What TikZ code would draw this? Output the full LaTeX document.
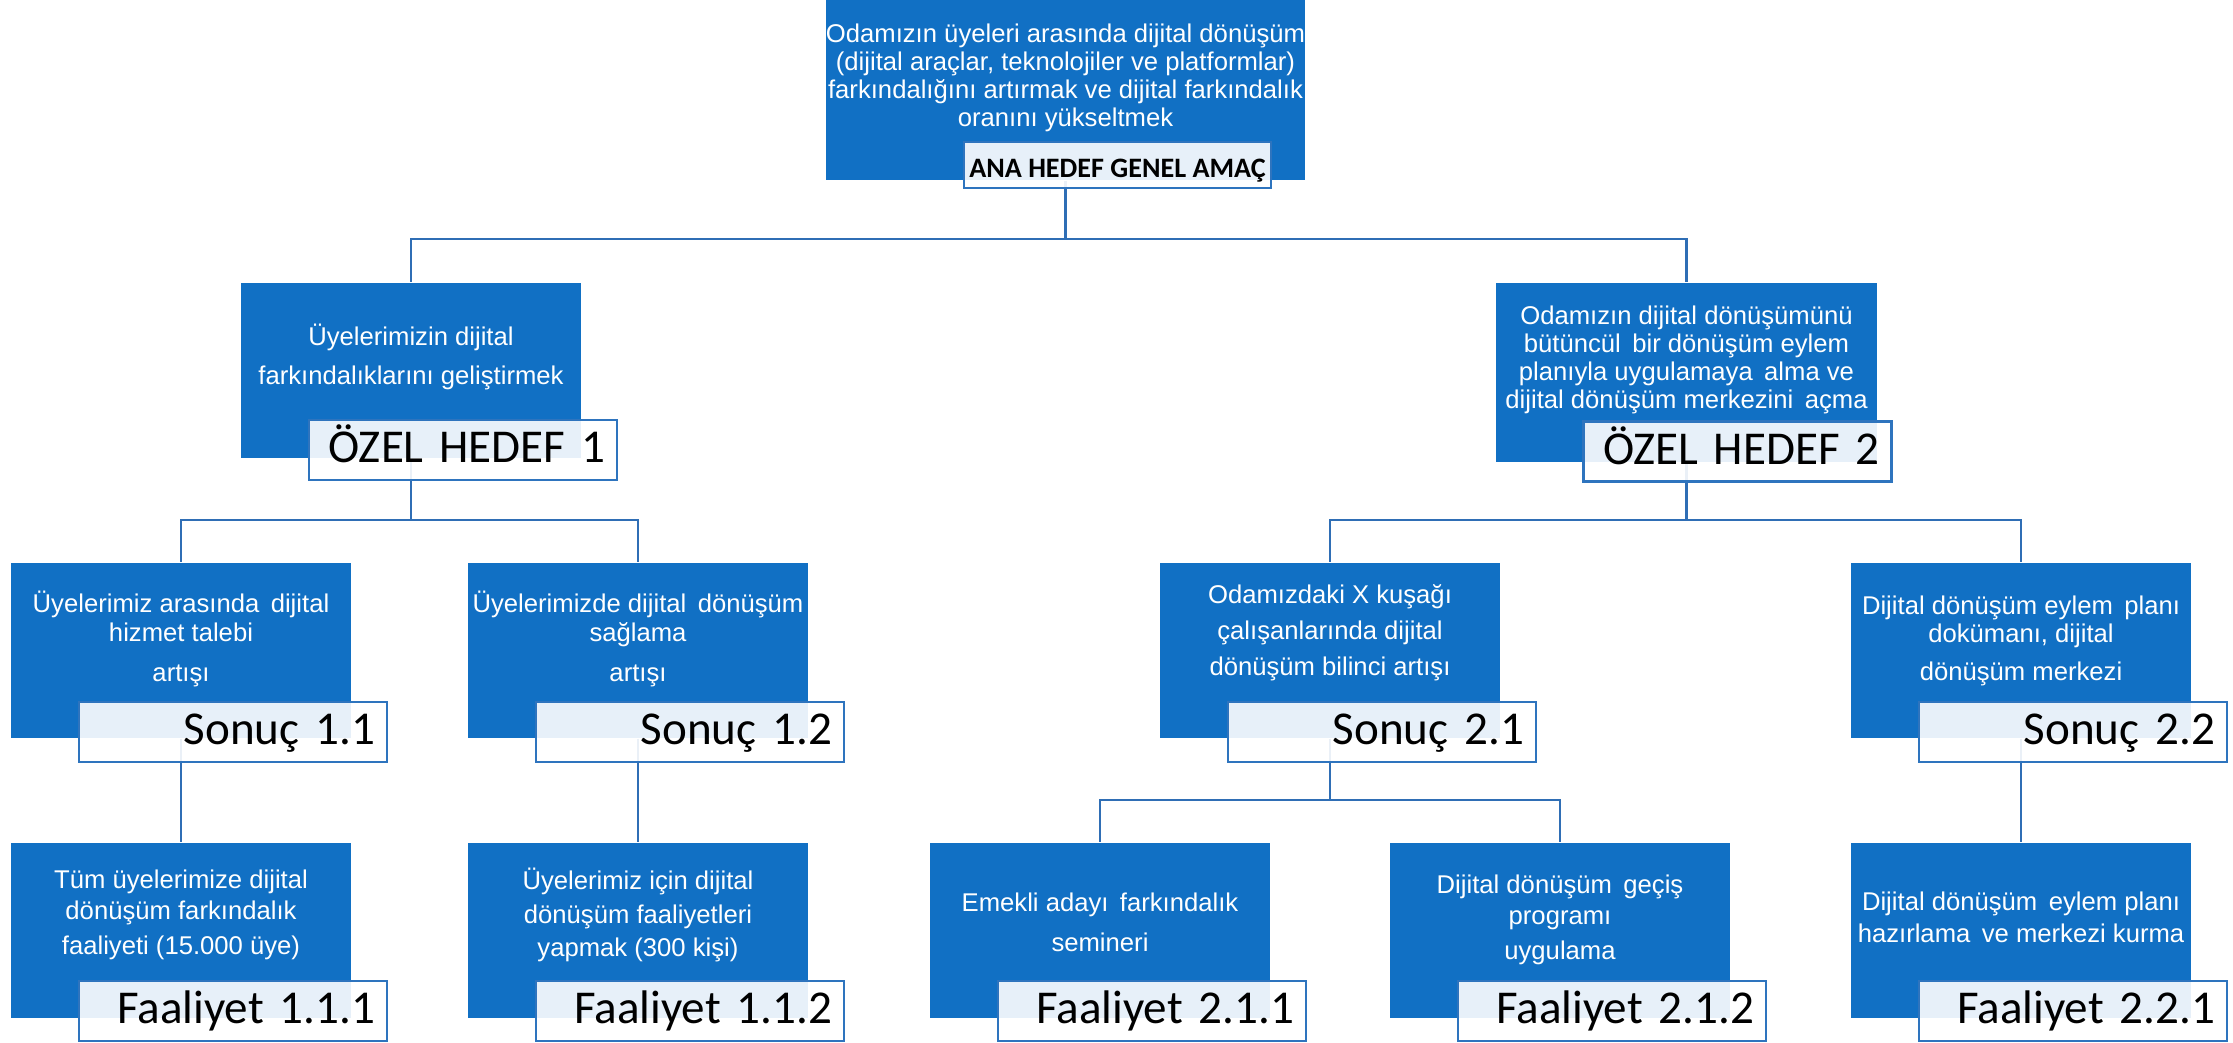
\documentclass[tikz,border=0pt]{standalone}
\usepackage{fontspec}
\setmainfont{Liberation Sans}
\newfontfamily\tagfont{Carlito}
\usetikzlibrary{calc}
\definecolor{boxblue}{HTML}{1170C4}
\definecolor{lineblue}{HTML}{2F6EB5}
\definecolor{tagline}{HTML}{2E74BE}

\begin{document}
\begin{tikzpicture}[
  box/.style={rectangle, fill=boxblue, minimum width=3.4cm, minimum height=1.75cm, inner sep=0pt},
  boxtext/.style={text=white, align=center, inner sep=0pt, font=\fontsize{7.3}{8}\selectfont},
  tagbase/.style={rectangle, draw=tagline, line width=0.7pt, fill=white, fill opacity=0.9, text opacity=1,
                  inner ysep=0pt},
  tag/.style={tagbase, text width=2.84cm, align=right, inner xsep=0.12cm,
              text height=0.43cm, text depth=0.17cm, font=\tagfont\fontsize{13.4}{14}\selectfont},
  toptag/.style={tagbase, minimum width=3.07cm, inner xsep=0pt,
                 text height=0.36cm, text depth=0.10cm, font=\tagfont\bfseries\fontsize{8}{9}\selectfont},
  link/.style={draw=lineblue, line width=0.7pt}
]
\useasboundingbox (0,0) rectangle (22.33,10.43);

% boxes
\node[box, minimum width=4.79cm, minimum height=1.80cm] (top) at (10.655,9.53) {};
\node[box] (oh1) at (4.11,6.725) {};
\node[box, minimum width=3.81cm, minimum height=1.79cm] (oh2) at (16.865,6.705) {};
\node[box] (s11) at (1.81,3.925) {};
\node[box] (s12) at (6.38,3.925) {};
\node[box] (s21) at (13.30,3.925) {};
\node[box] (s22) at (20.21,3.925) {};
\node[box] (f111) at (1.81,1.125) {};
\node[box] (f112) at (6.38,1.125) {};
\node[box] (f211) at (11.00,1.125) {};
\node[box] (f212) at (15.60,1.125) {};
\node[box] (f221) at (20.21,1.125) {};

% connectors
\coordinate (bus0) at (10.655,8.04);
\draw[link] (top.south) -- (bus0) -| (oh1.north);
\draw[link] (bus0) -| (oh2.north);
\coordinate (bus1) at (4.11,5.23);
\draw[link] (oh1.south) -- (bus1) -| (s11.north);
\draw[link] (bus1) -| (s12.north);
\coordinate (bus2) at (16.865,5.23);
\draw[link] (oh2.south) -- (bus2) -| (s21.north);
\draw[link] (bus2) -| (s22.north);
\draw[link] (s11.south) -- (f111.north);
\draw[link] (s12.south) -- (f112.north);
\coordinate (bus3) at (13.30,2.43);
\draw[link] (s21.south) -- (bus3) -| (f211.north);
\draw[link] (bus3) -| (f212.north);
\draw[link] (s22.south) -- (f221.north);

% texts
\node[boxtext] (top-t) at (10.655,9.65)
  {Odamızın üyeleri arasında dijital dönüşüm\\(dijital araçlar, teknolojiler ve platformlar)\\farkındalığını artırmak ve dijital farkındalık\\oranını yükseltmek};
\node[boxtext] (oh1-t) at (4.11,6.86)
  {Üyelerimizin dijital\\[0.11cm]farkındalıklarını geliştirmek};
\node[boxtext] (oh2-t) at (16.865,6.83)
  {Odamızın dijital dönüşümünü\\bütüncül\, bir dönüşüm eylem\\planıyla uygulamaya\, alma ve\\dijital dönüşüm merkezini\, açma};
\node[boxtext] (s11-t) at (1.81,4.04)
  {Üyelerimiz arasında\, dijital\\hizmet talebi\\[0.12cm]artışı};
\node[boxtext] (s12-t) at (6.38,4.04)
  {Üyelerimizde dijital\, dönüşüm\\sağlama\\[0.12cm]artışı};
\node[boxtext] (s21-t) at (13.30,4.10)
  {Odamızdaki X kuşağı\\[0.08cm]çalışanlarında dijital\\[0.08cm]dönüşüm bilinci artışı};
\node[boxtext] (s22-t) at (20.21,4.02)
  {Dijital dönüşüm eylem\, planı\\dokümanı, dijital\\[0.1cm]dönüşüm merkezi};
\node[boxtext] (f111-t) at (1.81,1.28)
  {Tüm üyelerimize dijital\\[0.02cm]dönüşüm farkındalık\\[0.07cm]faaliyeti (15.000 üye)};
\node[boxtext] (f112-t) at (6.38,1.28)
  {Üyelerimiz için dijital\\[0.05cm]dönüşüm faaliyetleri\\[0.05cm]yapmak (300 kişi)};
\node[boxtext] (f211-t) at (11.00,1.21)
  {Emekli adayı\, farkındalık\\[0.12cm]semineri};
\node[boxtext] (f212-t) at (15.60,1.23)
  {Dijital dönüşüm\, geçiş\\[0.03cm]programı\\[0.07cm]uygulama};
\node[boxtext] (f221-t) at (20.21,1.26)
  {Dijital dönüşüm\, eylem planı\\[0.04cm]hazırlama\, ve merkezi kurma};

% tags
\node[toptag] (top-g) at (11.175,8.78) {ANA HEDEF GENEL AMAÇ};
\node[tag] (oh1-g) at (4.63,5.93) {ÖZEL HEDEF 1};
\node[tag] (oh2-g) at (17.375,5.915) {ÖZEL HEDEF 2};
\node[tag] (s11-g) at (2.33,3.11) {Sonuç 1.1};
\node[tag] (s12-g) at (6.90,3.11) {Sonuç 1.2};
\node[tag] (s21-g) at (13.82,3.11) {Sonuç 2.1};
\node[tag] (s22-g) at (20.73,3.11) {Sonuç 2.2};
\node[tag] (f111-g) at (2.33,0.32) {Faaliyet 1.1.1};
\node[tag] (f112-g) at (6.90,0.32) {Faaliyet 1.1.2};
\node[tag] (f211-g) at (11.52,0.32) {Faaliyet 2.1.1};
\node[tag] (f212-g) at (16.12,0.32) {Faaliyet 2.1.2};
\node[tag] (f221-g) at (20.73,0.32) {Faaliyet 2.2.1};

\end{tikzpicture}
\end{document}
